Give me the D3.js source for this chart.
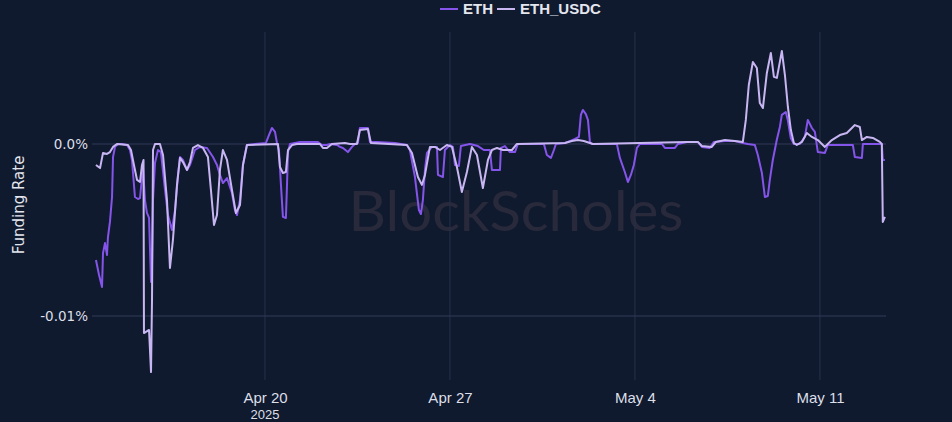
<!DOCTYPE html>
<html><head><meta charset="utf-8">
<script src="https://cdn.jsdelivr.net/npm/d3@7"></script>
<style>html,body{margin:0;padding:0;background:#101a2e;overflow:hidden}</style>
</head><body><svg id="c" width="952" height="422"></svg>
<script>
// hours since 2025-04-13T00:00Z, funding rate in %
const startTime = "2025-04-13T00:00:00Z";
const seriesNames = ["ETH", "ETH_USDC"];
const ethData = [
[14.5,-0.00674],[17.3,-0.00762],[20.0,-0.00831],[20.9,-0.00634],[22.7,-0.00576],[24.5,-0.00645],[25.4,-0.00541],[27.2,-0.00453],[29.1,-0.00308],[30.0,-0.00076],[31.8,-0.00017],[34.5,0],[38.1,0],[42.7,-0.00006],[45.4,-0.00035],[47.2,-0.00093],[49.9,-0.00308],[52.7,-0.0032],[54.5,-0.00314],[57.2,-0.00134],[59.0,-0.00326],[60.8,-0.00401],[62.7,-0.0043],[63.6,-0.00616],[64.5,-0.00802],[65.4,-0.00703],[66.3,-0.00326],[68.1,-0.0011],[70.8,-0.00035],[73.5,-0.00047],[77.2,-0.00267],[79.9,-0.00413],[83.5,-0.005],[86.3,-0.00384],[89.0,-0.0018],[90.8,-0.00076],[93.5,-0.00093],[97.2,-0.00151],[99.9,-0.00122],[104.4,-0.00035],[109.0,-0.00017],[115.3,-0.00023],[120.8,-0.00076],[124.4,-0.00122],[127.1,-0.0018],[129.8,-0.00227],[133.5,-0.00198],[138.0,-0.00285],[140.7,-0.00384],[142.6,-0.00413],[145.3,-0.00326],[148.0,-0.00122],[151.6,-0.00006],[158.9,0],[168.9,0.00006],[171.6,0.00052],[174.3,0.00093],[177.1,0.0007],[178.9,0.00006],[180.7,-0.00035],[182.5,-0.00238],[184.3,-0.00424],[187.0,-0.0043],[188.0,-0.00238],[188.9,-0.00047],[190.7,0],[199.8,0.00012],[216.1,0.00012],[219.7,-0.00006],[224.3,-0.00006],[227.0,0],[233.4,-0.00006],[236.1,-0.00017],[238.8,-0.00023],[243.3,-0.00047],[247.0,-0.00017],[249.7,0],[252.4,0.00006],[254.2,0.00093],[261.5,0.00093],[263.3,0.00012],[269.7,0.00012],[286.0,0.00006],[296.9,-0.00006],[299.6,-0.00035],[304.2,-0.00192],[307.8,-0.00384],[309.6,-0.00407],[311.4,-0.00326],[313.3,-0.00151],[315.1,-0.00052],[319.6,-0.00017],[324.2,-0.00017],[325.1,-0.0018],[329.6,-0.00192],[331.4,-0.00035],[336.0,-0.00006],[338.7,-0.00017],[340.5,-0.00122],[344.1,-0.00128],[345.9,-0.00012],[354.1,0],[361.4,-0.00012],[366.8,-0.00035],[372.3,-0.00035],[374.1,-0.00151],[381.4,-0.00151],[382.3,-0.00023],[385.9,-0.00012],[390.4,-0.00047],[395.0,-0.00047],[397.7,0],[421.3,0],[424.0,-0.00064],[427.7,-0.00081],[430.4,-0.00035],[432.2,0],[440.4,0.00006],[444.9,0.00017],[449.5,0.00029],[453.1,0.00041],[454.9,0.00169],[456.7,0.00198],[459.4,0.00174],[461.3,0.0014],[463.1,0.00012],[464.9,0],[487.6,0],[490.3,-0.00081],[494.8,-0.00163],[497.6,-0.00221],[500.3,-0.0018],[503.0,-0.00122],[505.8,-0.00023],[508.5,0],[528.5,0],[531.2,-0.00023],[540.3,-0.00023],[543.0,0],[551.2,0.00012],[561.1,0.00012],[564.8,-0.00017],[572.0,-0.00023],[575.7,0.00012],[585.7,0.00017],[594.7,0.00017],[602.0,0.00006],[606.5,0],[612.9,-0.00006],[615.6,-0.00064],[619.3,-0.00169],[622.0,-0.00308],[624.7,-0.00302],[626.5,-0.00209],[629.2,-0.00093],[632.8,0.00023],[635.6,0.00099],[637.4,0.00169],[641.0,0.00186],[642.8,0.0014],[645.5,0.00035],[648.3,0],[653.8,0],[658.3,0.00041],[661.0,0.0014],[664.7,0.00093],[667.4,0.0007],[670.1,-0.00047],[676.5,-0.00052],[679.2,-0.00006],[701.9,-0.00006],[703.7,-0.00076],[710.1,-0.00081],[711.0,0],[728.2,0],[729.1,-0.00093],[731.0,-0.00093]
];
const ethUsdcData = [
[14.5,-0.00122],[18.2,-0.0014],[20.9,-0.00052],[24.5,-0.00058],[27.2,-0.00047],[30.0,-0.00017],[33.6,0],[43.6,-0.00006],[46.3,-0.00035],[49.0,-0.00122],[51.8,-0.00209],[54.5,-0.00221],[56.3,-0.00122],[57.7,-0.00093],[58.1,-0.01099],[62.7,-0.01081],[64.5,-0.01326],[65.4,-0.00907],[66.3,-0.00035],[68.1,0],[72.6,0],[75.4,-0.00064],[79.0,-0.00326],[81.7,-0.00721],[84.4,-0.00558],[88.1,-0.00238],[90.8,-0.00081],[93.5,-0.00105],[97.2,-0.00151],[99.9,-0.00105],[102.6,-0.00023],[107.1,-0.00006],[111.7,-0.00023],[116.2,-0.00076],[118.9,-0.00267],[121.7,-0.00471],[124.4,-0.00413],[127.1,-0.00151],[129.8,-0.00035],[133.5,-0.00093],[138.0,-0.00267],[141.6,-0.00401],[145.3,-0.00355],[148.0,-0.00122],[151.6,-0.00006],[179.8,0],[181.6,-0.00134],[184.3,-0.00169],[187.0,-0.00163],[188.9,-0.00035],[192.5,-0.00006],[197.0,0],[217.9,0],[220.6,-0.00023],[224.3,-0.00023],[228.8,0],[240.6,0.00006],[245.2,0],[251.5,0],[254.2,0.00081],[261.5,0.00087],[264.2,0.00006],[296.9,-0.00006],[301.5,-0.00052],[306.9,-0.00192],[310.5,-0.00238],[313.3,-0.0018],[317.8,-0.00017],[322.3,-0.00017],[326.9,-0.00035],[333.2,-0.00006],[337.8,-0.00017],[342.3,-0.00134],[346.8,-0.00279],[351.4,-0.00163],[355.9,-0.00017],[360.5,-0.00064],[365.9,-0.00256],[370.5,-0.00093],[374.1,-0.00035],[378.7,-0.00023],[384.1,-0.00035],[392.3,-0.00035],[396.8,0],[440.4,0.00006],[446.7,0.00017],[452.2,0.00023],[457.6,0.00017],[463.1,0.00006],[465.8,0],[551.2,0.00012],[561.1,0.00012],[564.8,-0.00012],[573.8,-0.00017],[577.5,0.00012],[585.7,0.00023],[594.7,0.00017],[602.0,0.00012],[604.7,0.0014],[607.4,0.00343],[611.1,0.00477],[614.7,0.00442],[617.4,0.00238],[620.2,0.00209],[623.8,0.00413],[627.4,0.00529],[630.2,0.0039],[632.9,0.00384],[635.6,0.00477],[637.4,0.00541],[640.2,0.00401],[642.9,0.00215],[645.6,0.00081],[648.3,0.00006],[651.0,-0.00006],[655.6,0.00012],[660.1,0.00064],[664.7,0.00041],[670.1,0.00023],[676.5,-0.00017],[682.8,0.00023],[690.1,0.00052],[696.4,0.00064],[701.0,0.00093],[703.7,0.0011],[708.2,0.00099],[710.1,0.00023],[714.6,0.00041],[720.1,0.00035],[726.4,0.00012],[728.2,0],[729.1,-0.00453],[731.0,-0.00424]
];
const xTickDates = ["2025-04-20T00:00:00Z","2025-04-27T00:00:00Z","2025-05-04T00:00:00Z","2025-05-11T00:00:00Z"];
const xTickLabels = ["Apr 20","Apr 27","May 4","May 11"];
const xYearLabel = "2025";
const yTickValues = [0, -0.01];
const yTickLabels = ["0.0%", "-0.01%"];
const yTitle = "Funding Rate";
const watermark = "BlockScholes";

const colors = ["#8554ea", "#c8b6f2"];
const t0 = new Date(startTime).getTime();
const toDate = h => new Date(t0 + h * 3600e3);

const svg = d3.select("#c");
svg.append("rect").attr("width", 952).attr("height", 422).attr("fill", "#101a2e");

const x = d3.scaleUtc().domain([toDate(10.9), toDate(732)]).range([92, 886]);
const y = d3.scaleLinear().domain([-0.01372, 0.00651]).range([380, 32]);

// watermark
svg.append("text").attr("x", 516).attr("y", 231).attr("text-anchor", "middle")
  .attr("font-family", "Lato, 'Open Sans', sans-serif").attr("font-size", 56)
  .attr("fill", "#28293a").attr("textLength", 335).attr("lengthAdjust", "spacingAndGlyphs")
  .text(watermark);

// gridlines
const tickDates = xTickDates.map(d => new Date(d));
svg.append("g").selectAll("line").data(tickDates).join("line")
  .attr("x1", d => x(d)).attr("x2", d => x(d)).attr("y1", 32).attr("y2", 380)
  .attr("stroke", "#27304a").attr("stroke-width", 1);
svg.append("g").selectAll("line").data(yTickValues).join("line")
  .attr("x1", 92).attr("x2", 886).attr("y1", d => y(d)).attr("y2", d => y(d))
  .attr("stroke", "#323a58").attr("stroke-width", 1);

// axes
const xAxis = d3.axisBottom(x).tickValues(tickDates).tickSize(0)
  .tickFormat((d, i) => xTickLabels[i]);
const gx = svg.append("g").attr("transform", "translate(0,389)").call(xAxis);
gx.select(".domain").remove();
gx.selectAll("text").attr("font-family", "'Liberation Sans Narrow', 'Liberation Sans', sans-serif")
  .attr("font-size", 15).attr("fill", "#dcdfe8").attr("dy", "0.71em");
gx.append("text").attr("x", x(tickDates[0])).attr("y", 30).attr("text-anchor", "middle")
  .attr("font-family", "'Liberation Sans Narrow', 'Liberation Sans', sans-serif")
  .attr("font-size", 13).attr("fill", "#dcdfe8").text(xYearLabel);

const yAxis = d3.axisLeft(y).tickValues(yTickValues).tickSize(0)
  .tickFormat((d, i) => yTickLabels[i]);
const gy = svg.append("g").attr("transform", "translate(92,0)").call(yAxis);
gy.select(".domain").remove();
gy.selectAll("text").attr("font-family", "'DejaVu Sans', sans-serif").attr("font-size", 13.5)
  .attr("fill", "#dcdfe8").attr("dx", "-1");

svg.append("text").attr("transform", "translate(24,205) rotate(-90)").attr("text-anchor", "middle")
  .attr("font-family", "'DejaVu Sans', sans-serif").attr("font-size", 15).attr("fill", "#e4e6ee")
  .text(yTitle);

// lines
const line = d3.line().x(d => x(toDate(d[0]))).y(d => y(d[1]));
[ethData, ethUsdcData].forEach((data, i) => {
  svg.append("path").datum(data).attr("d", line).attr("fill", "none")
    .attr("stroke", colors[i]).attr("stroke-width", 2).attr("stroke-linejoin", "round");
});

// legend
const legendX = [440, 497];
const lg = svg.append("g");
seriesNames.forEach((name, i) => {
  lg.append("line").attr("x1", legendX[i]).attr("x2", legendX[i] + 18).attr("y1", 9).attr("y2", 9)
    .attr("stroke", colors[i]).attr("stroke-width", 2);
  lg.append("text").attr("x", legendX[i] + 23).attr("y", 14)
    .attr("font-family", "'Liberation Sans Narrow', 'Liberation Sans', sans-serif")
    .attr("font-size", 15).attr("font-weight", "bold").attr("fill", "#e4e6ee").text(name);
});
</script></body></html>
